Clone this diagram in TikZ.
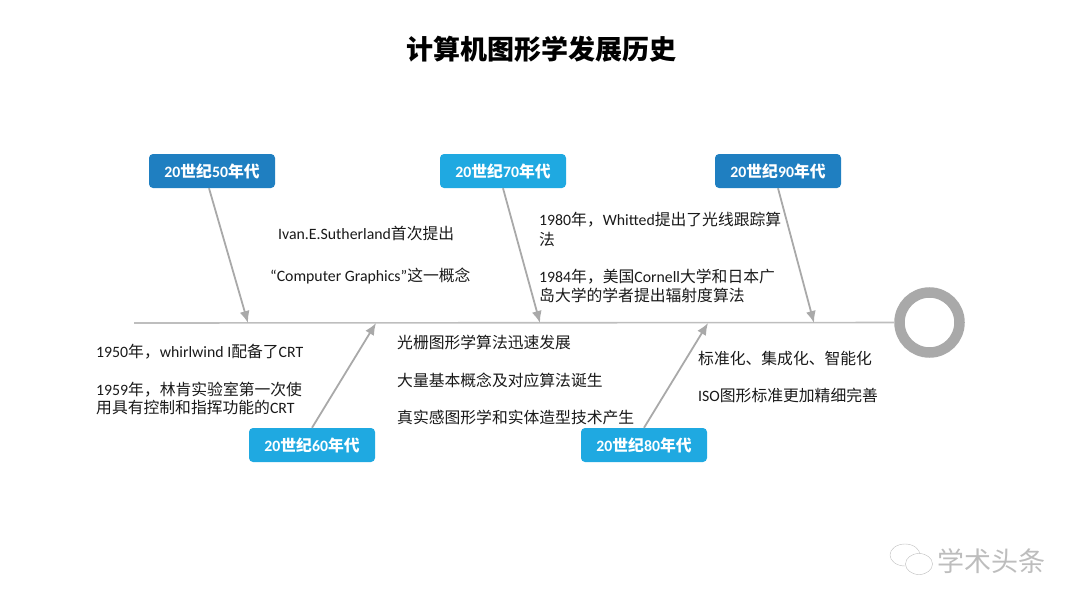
\documentclass[tikz,border=0pt]{standalone}
\usepackage{fontspec}
\setmainfont{Carlito}
\newfontfamily\cjk{Noto Sans CJK SC}
\newcommand{\C}[1]{{\cjk #1}}
\usetikzlibrary{arrows.meta,shapes.geometric}
\definecolor{boneGray}{HTML}{A9A9A9}
\definecolor{spineGray}{HTML}{BEBEBE}
\definecolor{darkBlue}{HTML}{1F7FC1}
\definecolor{lightBlue}{HTML}{1FA9E1}
\definecolor{wmGray}{HTML}{BDBDBD}
\tikzset{
	decade/.style={rounded corners=4pt,minimum width=126pt,minimum height=34pt,inner sep=0pt,text=white,font=\fontsize{15.8}{18}\selectfont\bfseries},
	note/.style={anchor=base west,inner sep=0pt,text=black!90,font=\fontsize{15.8}{19}\selectfont},
	bone/.style={draw=boneGray,line width=1.8pt,-{Latex[length=12pt,width=10pt]}},
}
\begin{document}
\begin{tikzpicture}[x=1pt,y=-1pt]
	\useasboundingbox (0,0) rectangle (1080,608);
	\node(title) at (541,49)[inner sep=0pt,font=\fontsize{27}{30}\selectfont]{\cjk\bfseries 计算机图形学发展历史};

	\node(box50) at (212,171)[decade,fill=darkBlue]{20\C{世纪}50\C{年代}};
	\node(box70) at (503,171)[decade,fill=lightBlue]{20\C{世纪}70\C{年代}};
	\node(box90) at (778,171)[decade,fill=darkBlue]{20\C{世纪}90\C{年代}};
	\node(box60) at (312,445)[decade,fill=lightBlue]{20\C{世纪}60\C{年代}};
	\node(box80) at (644,445)[decade,fill=lightBlue]{20\C{世纪}80\C{年代}};

	\node(ring) at (929.5,322.5)[circle,draw=boneGray,line width=10.5pt,minimum size=60pt,inner sep=0pt]{};
	\coordinate(tail) at (134,323);
	\coordinate(j50) at (248,323);
	\coordinate(j60) at (376,323);
	\coordinate(j70) at (540,323);
	\coordinate(j80) at (708,323);
	\coordinate(j90) at (814,323);

	\draw[spineGray,line width=1.6pt] (tail) to (ring);
	\draw[bone] ([xshift=-3pt]box50.south) to (j50);
	\draw[bone] (box70.south) to (j70);
	\draw[bone] (box90.south) to (j90);
	\draw[bone] (box60.north) to (j60);
	\draw[bone] (box80.north) to (j80);

	\node(t1) at (278,239)[note]{Ivan.E.Sutherland\C{首次提出}};
	\node(t2) at (270,281)[note]{“Computer Graphics”\C{这一概念}};

	\node(t3) at (539,225)[note]{1980\C{年，}Whitted\C{提出了光线跟踪算}};
	\node(t4) at (539,245)[note]{\C{法}};
	\node(t5) at (539,282)[note]{1984\C{年，美国}Cornell\C{大学和日本广}};
	\node(t6) at (539,301)[note]{\C{岛大学的学者提出辐射度算法}};

	\node(t7) at (96,357)[note]{1950\C{年，}whirlwind I\C{配备了}CRT};
	\node(t8) at (96,395)[note]{1959\C{年，林肯实验室第一次使}};
	\node(t9) at (96,413)[note]{\C{用具有控制和指挥功能的}CRT};

	\node(t10) at (397,348)[note]{\C{光栅图形学算法迅速发展}};
	\node(t11) at (397,386)[note]{\C{大量基本概念及对应算法诞生}};
	\node(t12) at (397,423)[note]{\C{真实感图形学和实体造型技术产生}};

	\node(t13) at (698,364)[note]{\C{标准化、集成化、智能化}};
	\node(t14) at (698,401)[note]{ISO\C{图形标准更加精细完善}};

	% watermark
	\node(bub1) at (905,555)[ellipse,draw=wmGray,minimum width=30pt,minimum height=22pt,inner sep=0pt]{};
	\node(bub2) at (919,564)[ellipse,draw=wmGray,fill=white,minimum width=27pt,minimum height=21pt,inner sep=0pt]{};
	\node(mark) at (991.5,561)[inner sep=0pt,text=wmGray,font=\fontsize{27}{30}\selectfont]{\cjk 学术头条};
\end{tikzpicture}
\end{document}
